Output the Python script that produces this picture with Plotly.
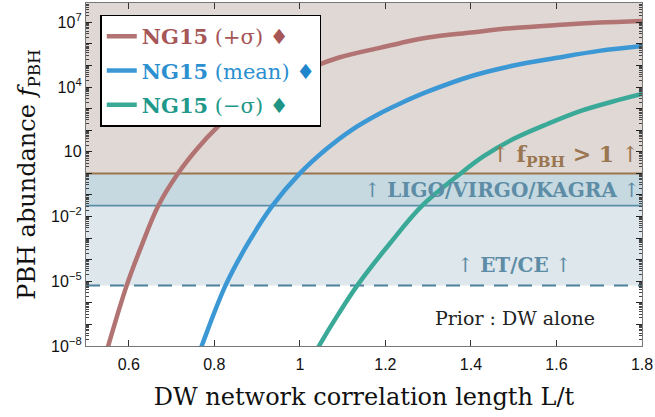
import plotly.graph_objects as go

# ---- data ----
x_range = [0.5, 1.8]
y_range_log = [-8, 7.9]

plus_x = [0.540, 0.553, 0.595, 0.630, 0.669, 0.715, 0.760, 0.807, 0.880, 0.988, 1.090, 1.189, 1.236, 1.300, 1.400, 1.500, 1.602, 1.700, 1.800]
plus_f = [1.5e-9, 1.2e-8, 6.3e-6, 4.5e-4, 3.2e-2, 1.0, 1.4e1, 1.4e2, 2.6e3, 3.7e4, 2.3e5, 6.8e5, 1.12e6, 2.0e6, 3.4e6, 5.5e6, 7.6e6, 9.8e6, 1.17e7]

mean_x = [0.755, 0.772, 0.826, 0.880, 0.936, 1.000, 1.060, 1.120, 1.189, 1.236, 1.300, 1.400, 1.500, 1.602, 1.700, 1.800]
mean_f = [1.4e-9, 1.2e-8, 6.3e-6, 6.3e-4, 3.2e-2, 1.0, 1.25e1, 1.0e2, 6.3e2, 1.8e3, 6.3e3, 3.2e4, 1.0e5, 2.3e5, 4.8e5, 8.1e5]

minus_x = [1.020, 1.047, 1.090, 1.134, 1.210, 1.286, 1.376, 1.430, 1.500, 1.580, 1.657, 1.730, 1.800]
minus_f = [1.3e-9, 1.2e-8, 3.0e-7, 6.3e-6, 5.5e-4, 3.2e-2, 1.0, 6.3, 4.0e1, 2.0e2, 7.9e2, 2.1e3, 4.8e3]

f_pbh_limit = 1.0
ligo_limit = 3.2e-2
etce_limit = 6.3e-6
y_top = 1e8

x_tick_vals = [0.6, 0.8, 1.0, 1.2, 1.4, 1.6, 1.8]
x_tick_text = ["0.6", "0.8", "1", "1.2", "1.4", "1.6", "1.8"]
y_decades = list(range(-8, 8))
y_label_decades = {-8: "10<sup>−8</sup>", -5: "10<sup>−5</sup>", -2: "10<sup>−2</sup>",
                   1: "10", 4: "10<sup>4</sup>", 7: "10<sup>7</sup>"}

# ---- styles ----
SERIF = "DejaVu Serif"
SANS = "Liberation Sans"
c_plus, c_mean, c_minus = "#b27373", "#3b98d5", "#3aa997"
t_plus, t_mean, t_minus = "#a65656", "#2b8fd0", "#21998a"

L, R, T, B = 85.5, 642.5, 3.0, 345.7
PW, PH = R - L, B - T
def px(xp): return (xp - L) / PW
def py(yp): return 1 - (yp - T) / PH

fig = go.Figure()

def band(lo, hi, color):
    fig.add_trace(go.Scatter(x=[x_range[0], x_range[1], x_range[1], x_range[0]],
                             y=[lo, lo, hi, hi], fill="toself", fillcolor=color,
                             line=dict(width=0), mode="lines", showlegend=False,
                             hoverinfo="skip"))

band(f_pbh_limit, y_top, "#e0d8d5")
band(ligo_limit, f_pbh_limit, "#c6d9e0")
band(etce_limit, ligo_limit, "#dde7ec")

def hline(val, color, width, dash="solid"):
    fig.add_trace(go.Scatter(x=x_range, y=[val, val], mode="lines",
                             line=dict(color=color, width=width, dash=dash),
                             showlegend=False, hoverinfo="skip"))

hline(f_pbh_limit, "#9a7650", 2)
hline(ligo_limit, "#5d8da6", 1.8)
hline(etce_limit, "#4f809b", 2, "14px,10px")

def lab(name, dcol, tcol):
    return (f"<span style='color:{tcol}'><b>NG15</b> {name} </span>"
            f"<span style='color:{dcol}'>♦</span>")

fig.add_trace(go.Scatter(x=plus_x, y=plus_f, mode="lines", line=dict(color=c_plus, width=4.5, shape="spline"),
                         name=lab("(+σ)", "#a65656", t_plus), legendgroup="a"))
fig.add_trace(go.Scatter(x=mean_x, y=mean_f, mode="lines", line=dict(color=c_mean, width=4.5, shape="spline"),
                         name=lab("(mean)", "#1f86cc", t_mean), legendgroup="b"))
fig.add_trace(go.Scatter(x=minus_x, y=minus_f, mode="lines", line=dict(color=c_minus, width=4.5, shape="spline"),
                         name=lab("(−σ)", "#1f9485", t_minus), legendgroup="c"))

fig.add_annotation(x=px(643), y=py(156), xref="paper", yref="paper",
                   text="↑ <b>f<sub>PBH</sub> > 1</b> ↑", showarrow=False, xanchor="right", yanchor="middle",
                   font=dict(family=SERIF, size=22, color="#9a7650"))
fig.add_annotation(x=px(643), y=py(190), xref="paper", yref="paper",
                   text="↑ <b>LIGO/VIRGO/KAGRA</b> ↑", showarrow=False, xanchor="right", yanchor="middle",
                   font=dict(family=SERIF, size=20, color="#5d8da6"))
fig.add_annotation(x=px(515), y=py(265), xref="paper", yref="paper",
                   text="↑ <b>ET/CE</b> ↑", showarrow=False, xanchor="center", yanchor="middle",
                   font=dict(family=SERIF, size=20, color="#5d8da6"))
fig.add_annotation(x=px(515), y=py(318), xref="paper", yref="paper",
                   text="Prior : DW alone", showarrow=False, xanchor="center", yanchor="middle",
                   font=dict(family=SERIF, size=19, color="#222222"))

fig.update_layout(
    width=655, height=417,
    margin=dict(l=L, r=655 - R, t=T, b=417 - B),
    paper_bgcolor="white", plot_bgcolor="white",
    showlegend=True,
    legend=dict(x=px(100), y=py(14.7), xanchor="left", yanchor="top",
                bgcolor="white", bordercolor="black", borderwidth=1.3,
                font=dict(family=SERIF, size=21), tracegroupgap=4, itemwidth=30),
    xaxis=dict(range=x_range, tickvals=x_tick_vals, ticktext=x_tick_text,
               ticks="inside", ticklen=6, tickcolor="#333", mirror="ticks",
               showline=True, linecolor="#777", linewidth=1.3, showgrid=False, zeroline=False,
               tickfont=dict(family=SANS, size=16, color="#111"), ticklabelstandoff=4,
               title=dict(text="DW network correlation length L/t",
                          font=dict(family=SERIF, size=24, color="#111"), standoff=15)),
    yaxis=dict(type="log", range=y_range_log,
               tickvals=[10 ** d for d in y_decades],
               ticktext=[y_label_decades.get(d, "") for d in y_decades],
               ticks="inside", ticklen=6, tickcolor="#222", mirror="ticks",
               minor=dict(ticks="inside", ticklen=3, tickcolor="#444", dtick="D1", showgrid=False),
               showline=True, linecolor="#777", linewidth=1.3, showgrid=False, zeroline=False,
               tickfont=dict(family=SANS, size=16, color="#111"),
               title=dict(text="PBH abundance <i>f</i><sub>PBH</sub>",
                          font=dict(family=SERIF, size=24, color="#111"), standoff=8)),
)

fig.write_html("out.html")
